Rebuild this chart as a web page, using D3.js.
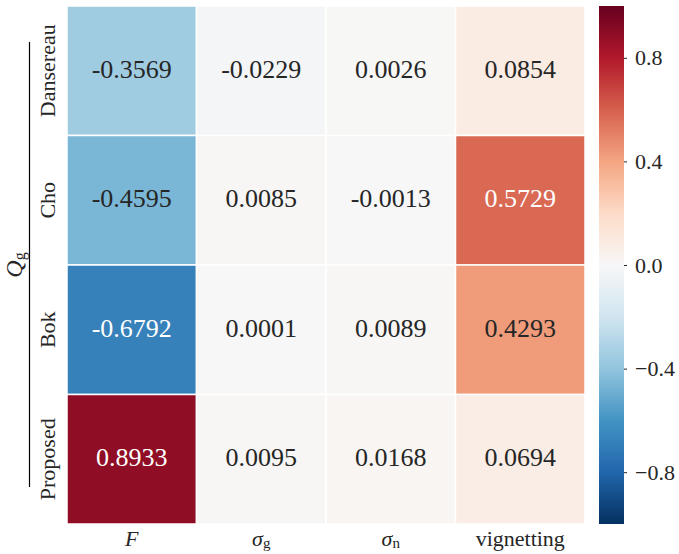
<!DOCTYPE html>
<html>
<head>
<meta charset="utf-8">
<script src="https://cdn.jsdelivr.net/npm/d3@7"></script>
<style>
  html, body { margin: 0; padding: 0; background: #fff; }
</style>
</head>
<body>
<svg id="chart" width="679" height="554"></svg>
<script>
// Correlation of each method's quality score with the image parameters
const methods = ["Dansereau", "Cho", "Bok", "Proposed"];
const params = [
  { base: "F", sub: "" },
  { base: "σ", sub: "g" },
  { base: "σ", sub: "n" },
  { base: "vignetting", sub: "", roman: true }
];
const dansereau = [-0.3569, -0.0229, 0.0026, 0.0854];
const cho       = [-0.4595,  0.0085, -0.0013, 0.5729];
const bok       = [-0.6792,  0.0001, 0.0089, 0.4293];
const proposed  = [ 0.8933,  0.0095, 0.0168, 0.0694];
const rowValues = [dansereau, cho, bok, proposed];
const colorbarTicks = [-0.8, -0.4, 0.0, 0.4, 0.8];

const SERIF = "'Liberation Serif', 'Times New Roman', Tinos, serif";

// Diverging red-blue palette (reversed: blue = negative, red = positive)
const rdbu = ["#053061", "#2166ac", "#4393c3", "#92c5de", "#d1e5f0", "#f7f7f7",
              "#fddbc7", "#f4a582", "#d6604d", "#b2182b", "#67001f"];
const color = d3.scaleLinear()
  .domain(d3.range(11).map(i => -1 + i * 0.2))
  .range(rdbu)
  .interpolate(d3.interpolateRgb);

const svg = d3.select("#chart").style("font-family", SERIF);
const plotLeft = 67, plotTop = 6, plotRight = 585, plotBottom = 524;

const x = d3.scaleBand().domain(d3.range(params.length)).range([plotLeft, plotRight]);
const y = d3.scaleBand().domain(d3.range(methods.length)).range([plotTop, plotBottom]);

const cells = [];
rowValues.forEach((row, r) => row.forEach((v, c) => cells.push({ r, c, v })));

function luminance(col) {
  const rgb = d3.rgb(col);
  const f = u => { u /= 255; return u <= 0.03928 ? u / 12.92 : Math.pow((u + 0.055) / 1.055, 2.4); };
  return 0.2126 * f(rgb.r) + 0.7152 * f(rgb.g) + 0.0722 * f(rgb.b);
}

svg.append("g").selectAll("rect").data(cells).join("rect")
  .attr("x", d => x(d.c))
  .attr("y", d => y(d.r))
  .attr("width", x.bandwidth())
  .attr("height", y.bandwidth())
  .attr("fill", d => color(d.v))
  .attr("stroke", "#fff")
  .attr("stroke-width", 1.5);

svg.append("g").selectAll("text").data(cells).join("text")
  .attr("x", d => x(d.c) + x.bandwidth() / 2)
  .attr("y", d => y(d.r) + y.bandwidth() / 2 + 7)
  .attr("text-anchor", "middle")
  .style("font-family", SERIF)
  .attr("font-size", 26)
  .attr("fill", d => luminance(color(d.v)) > 0.408 ? "#262626" : "#ffffff")
  .text(d => d.v.toFixed(4));

// Column labels
const colLabels = svg.append("g").selectAll("text").data(params).join("text")
  .attr("x", (d, i) => x(i) + x.bandwidth() / 2)
  .attr("y", 546)
  .attr("text-anchor", "middle")
  .style("font-family", SERIF)
  .attr("font-size", 22)
  .attr("fill", "#262626");
colLabels.append("tspan")
  .attr("font-style", d => d.roman ? "normal" : "italic")
  .text(d => d.base);
colLabels.filter(d => d.sub).append("tspan")
  .attr("font-size", 15)
  .attr("dy", 2)
  .text(d => d.sub);

// Row labels (rotated)
svg.append("g").selectAll("text").data(methods).join("text")
  .attr("transform", (d, i) => `translate(55,${y(i) + y.bandwidth() / 2}) rotate(-90)`)
  .attr("text-anchor", "middle")
  .style("font-family", SERIF)
  .attr("font-size", 22)
  .attr("fill", "#262626")
  .text(d => d);

// Axis title with bracket line
svg.append("line")
  .attr("x1", 29.5).attr("x2", 29.5)
  .attr("y1", 42).attr("y2", 487)
  .attr("stroke", "#000").attr("stroke-width", 1.2);
const yTitle = svg.append("text")
  .attr("transform", `translate(22,${(plotTop + plotBottom) / 2}) rotate(-90)`)
  .attr("text-anchor", "middle")
  .style("font-family", SERIF)
  .attr("font-size", 24)
  .attr("fill", "#262626");
yTitle.append("tspan").attr("font-style", "italic").text("Q");
yTitle.append("tspan").attr("font-size", 16).attr("dy", 3).text("g");

// Colorbar
const cbX = 599, cbW = 25;
const cbScale = d3.scaleLinear().domain([-1, 1]).range([plotBottom, plotTop]);
const defs = svg.append("defs");
const grad = defs.append("linearGradient")
  .attr("id", "cbgrad")
  .attr("x1", 0).attr("y1", 1).attr("x2", 0).attr("y2", 0);
grad.selectAll("stop").data(rdbu).join("stop")
  .attr("offset", (d, i) => i / (rdbu.length - 1))
  .attr("stop-color", d => d);
svg.append("rect")
  .attr("x", cbX).attr("y", plotTop)
  .attr("width", cbW).attr("height", plotBottom - plotTop)
  .attr("fill", "url(#cbgrad)");

const cbAxis = d3.axisRight(cbScale)
  .tickValues(colorbarTicks)
  .tickSize(3)
  .tickPadding(8)
  .tickFormat(d => d3.format(".1f")(d).replace("-", "\u2212"));
const cbG = svg.append("g")
  .attr("transform", `translate(${cbX + cbW},0)`)
  .call(cbAxis);
cbG.select(".domain").remove();
cbG.selectAll(".tick line").attr("stroke", "#262626").attr("stroke-width", 1);
cbG.selectAll(".tick text")
  .style("font-family", SERIF)
  .attr("font-size", 22)
  .attr("fill", "#262626");
</script>
</body>
</html>
